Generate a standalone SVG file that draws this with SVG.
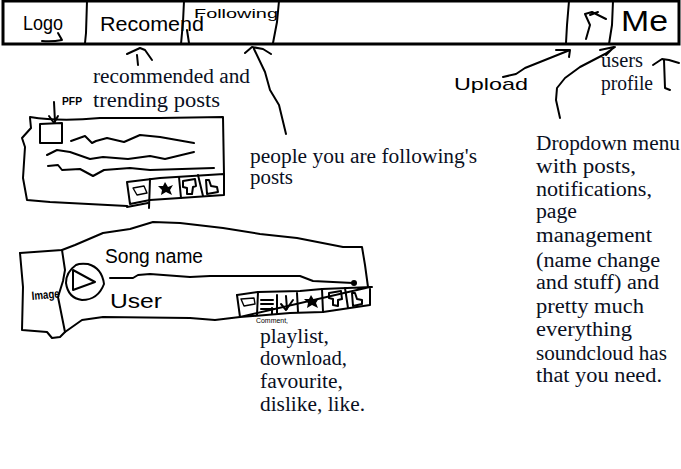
<svg xmlns="http://www.w3.org/2000/svg" width="681" height="469" viewBox="0 0 681 469">
<style>
.s{fill:none;stroke:#000;stroke-width:2;stroke-linejoin:round;stroke-linecap:round}
.t{stroke-width:1.4}
.f{fill:#000}
.d{font-family:"Liberation Serif",serif;font-size:20px;fill:#0a0f1e}
.h{font-family:"Liberation Sans",sans-serif;fill:#000}
</style>
<rect width="681" height="469" fill="#fff"/>
<g id="top-bar">
<path d="M3 1H679V44H3Z" fill="none" stroke="#000" stroke-width="3"/>
<path class="s" d="M87 1L86 33L85 43M184 1L183 22L181 44M187 30L189 43M279 1L277 22L273 43M569 1L567 25L566 43M613 1L612 25L609 44"/>
</g>
<g id="nav-logo"><text class="h" x="23" y="30" font-size="20" textLength="40" lengthAdjust="spacingAndGlyphs">Logo</text><path class="s" d="M42 41Q52 42 62 40L58 33"/></g>
<g id="nav-recommend"><text class="h" x="100" y="31" font-size="20" textLength="104" lengthAdjust="spacingAndGlyphs">Recomend</text></g>
<g id="nav-following"><text class="h" x="194" y="18" font-size="13" textLength="84" lengthAdjust="spacingAndGlyphs">Following</text></g>
<g id="nav-upload"><path class="s" d="M586 39L590 25L585 14L592 12L606 19M590 15L598 12"/></g>
<g id="nav-me"><text class="h" x="621" y="31" font-size="30" textLength="47" lengthAdjust="spacingAndGlyphs">Me</text></g>
<g id="post-card">
<path class="s" d="M30 118L31 128L22 138L25 147L23 178L27 200L50 202L127 206M30 117Q60 122 100 118H160L223 117L224 175M127 207L148 203"/>
<path class="s" d="M40 124L62 123V143H40Z"/>
<path class="s" d="M71 141L85 136L92 143L96 141L107 138L124 142L140 135L160 137L194 143"/>
<path class="s" d="M47 155L57 150L70 152L90 159L103 157L128 159L150 156L165 159L194 152"/>
<path class="s" d="M48 166L58 165L62 170L80 169L93 176L104 170L130 168L150 170L214 168"/>
<text class="h" x="62" y="105" font-size="11" font-weight="bold" textLength="20" lengthAdjust="spacingAndGlyphs">PFP</text>
<path class="s" d="M55 122L54 102M49 116L54 123L58 116"/>
<g id="post-buttons">
<path class="s" d="M127 182L160 178L224 174V195L180 198L150 200L130 204Z"/>
<path class="s" d="M150 179L149 208M179 177L181 198M198 175L203 196"/>
<path class="s t" d="M133 188L144 186L147 193L137 195Z"/>
<path class="f" d="M165 182L168 187L173 185L170 190L172 195L166 192L161 195L162 190L158 186L163 186Z"/>
<path class="s" d="M183 181L195 179L196 186L193 187L192 194L187 194L187 188L183 187Z"/>
<path class="s" d="M206 180L209 180L211 186L217 187L218 192L207 194Z"/>
</g>
</g>
<g id="song-card">
<path class="s" d="M20 253L62 250L75 245L103 233L130 229L153 222L180 223L223 228L260 234L297 238L343 247H362L365 265L368 287"/>
<path class="s" d="M20 253L23 287L22 330L47 332L52 338L60 337L65 332L82 320L103 317L190 318L215 320L240 317"/>
<path class="s" d="M62 250L65 270L63 281L58 297L65 332"/>
<path class="s" d="M76 265Q66 272 66 283Q68 298 82 300Q98 300 104 284Q102 268 88 264Q80 263 76 265Z"/>
<path class="s" d="M73 270L95 282L73 290Z"/>
<text class="h" x="32" y="300" font-size="12" font-weight="bold" textLength="28" lengthAdjust="spacingAndGlyphs" transform="rotate(-5 32 300)">Image</text>
<path class="s" d="M110 278L133 278L138 275L150 274L190 277L210 276H300L313 281L353 283"/>
<text class="h" x="105" y="263" font-size="20" textLength="98" lengthAdjust="spacingAndGlyphs">Song name</text>
<text class="h" x="110" y="308" font-size="20" textLength="52" lengthAdjust="spacingAndGlyphs">User</text>
<circle cx="354" cy="283" r="3" fill="#000"/>
<g id="song-buttons">
<path class="s" d="M237 295L258 292L300 291L322 289L372 287M370 287V305L323 312L290 313L240 317Z"/>
<path class="s" d="M237 295L240 317M258 292L257 315M277 295L277 313M297 293L298 312M322 289L323 312M345 288L348 308"/>
<path class="s t" d="M241 299L254 298L255 304L244 306Z"/>
<path class="s" d="M261 300H273M261 304H273M261 309H274M272 308V314"/>
<path class="s" d="M286 296L287 309M281 304L286 310L293 300"/>
<path class="f" d="M311 295L314 300L319 298L316 303L318 308L312 305L307 308L308 303L304 299L309 299Z"/>
<path class="s" d="M329 293L341 291L342 299L338 300L338 306L333 305L333 299L329 298Z"/>
<path class="s" d="M352 293L355 293L357 299L362 300L362 304L353 306Z"/>
</g>
<text class="h" x="256" y="323" font-size="7" textLength="32" lengthAdjust="spacingAndGlyphs">Comment,</text>
</g>
<g id="connectors">
<path class="s" d="M138 65L137 55M127 54L140 48L145 50L152 60"/>
<path class="s" d="M286 134L279 105L270 90L265 72L254 49M245 53L252 47L263 49L271 54"/>
<path class="s" d="M503 77L516 74L525 68L570 50M556 50L570 50L569 57"/>
<path class="s" d="M560 118L556 100L557 88L565 78L580 67L605 54L615 47M600 50L614 47L606 55"/>
<path class="s" d="M670 90L665 88L664 60M653 65L662 59L669 60L679 63"/>
</g>
<g id="upload-label"><text class="h" x="454" y="90" font-size="17" textLength="74" lengthAdjust="spacingAndGlyphs">Upload</text></g>
<g id="labels">
<text class="d" x="93" y="83" textLength="157" lengthAdjust="spacingAndGlyphs">recommended and</text>
<text class="d" x="93" y="107" textLength="127" lengthAdjust="spacingAndGlyphs">trending posts</text>
<text class="d" x="601" y="67" textLength="42" lengthAdjust="spacingAndGlyphs">users</text>
<text class="d" x="601" y="90" textLength="52" lengthAdjust="spacingAndGlyphs">profile</text>
<text class="d" x="250" y="163" textLength="227" lengthAdjust="spacingAndGlyphs">people you are following's</text>
<text class="d" x="250" y="184" textLength="43" lengthAdjust="spacingAndGlyphs">posts</text>
<text class="d" x="536" y="150" textLength="144" lengthAdjust="spacingAndGlyphs">Dropdown menu</text>
<text class="d" x="536" y="173" textLength="100" lengthAdjust="spacingAndGlyphs">with posts,</text>
<text class="d" x="536" y="196" textLength="116" lengthAdjust="spacingAndGlyphs">notifications,</text>
<text class="d" x="536" y="218" textLength="41" lengthAdjust="spacingAndGlyphs">page</text>
<text class="d" x="536" y="242" textLength="116" lengthAdjust="spacingAndGlyphs">management</text>
<text class="d" x="536" y="267" textLength="124" lengthAdjust="spacingAndGlyphs">(name change</text>
<text class="d" x="536" y="289" textLength="123" lengthAdjust="spacingAndGlyphs">and stuff) and</text>
<text class="d" x="536" y="313" textLength="108" lengthAdjust="spacingAndGlyphs">pretty much</text>
<text class="d" x="536" y="336" textLength="96" lengthAdjust="spacingAndGlyphs">everything</text>
<text class="d" x="536" y="360" textLength="131" lengthAdjust="spacingAndGlyphs">soundcloud has</text>
<text class="d" x="536" y="382" textLength="126" lengthAdjust="spacingAndGlyphs">that you need.</text>
<text class="d" x="260" y="343" textLength="69" lengthAdjust="spacingAndGlyphs">playlist,</text>
<text class="d" x="260" y="365" textLength="87" lengthAdjust="spacingAndGlyphs">download,</text>
<text class="d" x="260" y="388" textLength="83" lengthAdjust="spacingAndGlyphs">favourite,</text>
<text class="d" x="260" y="411" textLength="105" lengthAdjust="spacingAndGlyphs">dislike, like.</text>
</g>
</svg>
